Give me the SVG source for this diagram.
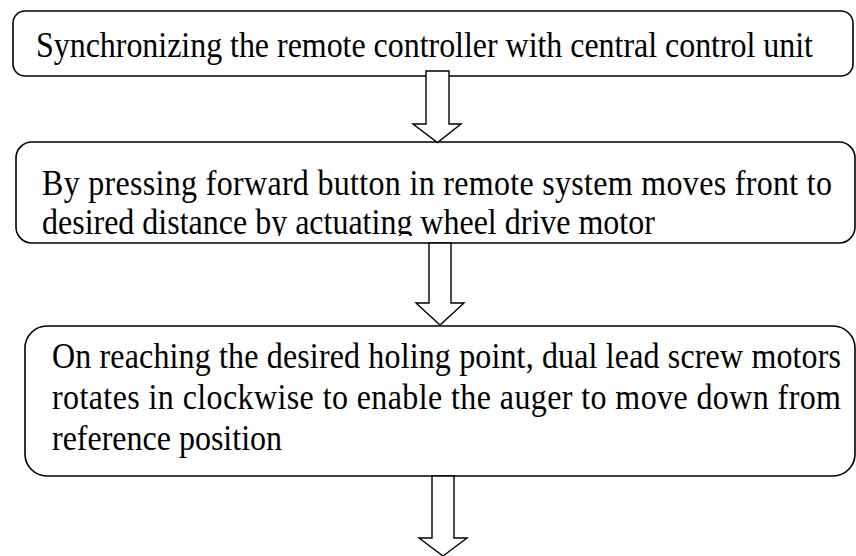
<svg xmlns="http://www.w3.org/2000/svg" width="856" height="556" viewBox="0 0 856 556">
<style>
.box{fill:#fff;stroke:#000;stroke-width:1.6}
.arr{fill:#fff;stroke:#000;stroke-width:1.4;stroke-linejoin:miter}
.t{font-family:'Liberation Serif','DejaVu Serif',serif;font-size:32px;fill:#000}
</style>
<defs>
<clipPath id="clip2"><rect x="16" y="142" width="840" height="94"/></clipPath>
</defs>
<rect width="856" height="556" fill="#fff"/>
<g id="n1">
<rect class="box" x="13" y="11" width="840" height="65" rx="12"/>
<text class="t" transform="translate(36,57) scale(1,1.15)" x="0" y="0" textLength="777" lengthAdjust="spacing">Synchronizing the remote controller with central control unit</text>
</g>
<g id="n2">
<rect class="box" x="16" y="142" width="839" height="101" rx="16"/>
<g clip-path="url(#clip2)">
<text class="t" transform="translate(42,195) scale(1,1.15)" x="0" y="0" textLength="790" lengthAdjust="spacing">By pressing forward button in remote system moves front to</text>
<text class="t" transform="translate(42,234) scale(1,1.15)" x="0" y="0">desired distance by actuating wheel drive motor</text>
</g>
</g>
<g id="n3">
<rect class="box" x="25" y="326" width="830" height="150" rx="22"/>
<text class="t" transform="translate(52,368) scale(1,1.15)" x="0" y="0" textLength="789" lengthAdjust="spacing">On reaching the desired holing point, dual lead screw motors</text>
<text class="t" transform="translate(52,409) scale(1,1.15)" x="0" y="0" textLength="789" lengthAdjust="spacing">rotates in clockwise to enable the auger to move down from</text>
<text class="t" transform="translate(52,450) scale(1,1.15)" x="0" y="0">reference position</text>
</g>
<g id="connectors">
<path class="arr" d="M426,71 H449 V124 H461 L437.5,142.5 L413,124 H426 Z"/>
<path class="arr" d="M429,243 H451 V303 H464 L440,325 L416,303 H429 Z"/>
<path class="arr" d="M432,476 H454 V538 H467 L443,556 L419,538 H432 Z"/>
</g>
</svg>
